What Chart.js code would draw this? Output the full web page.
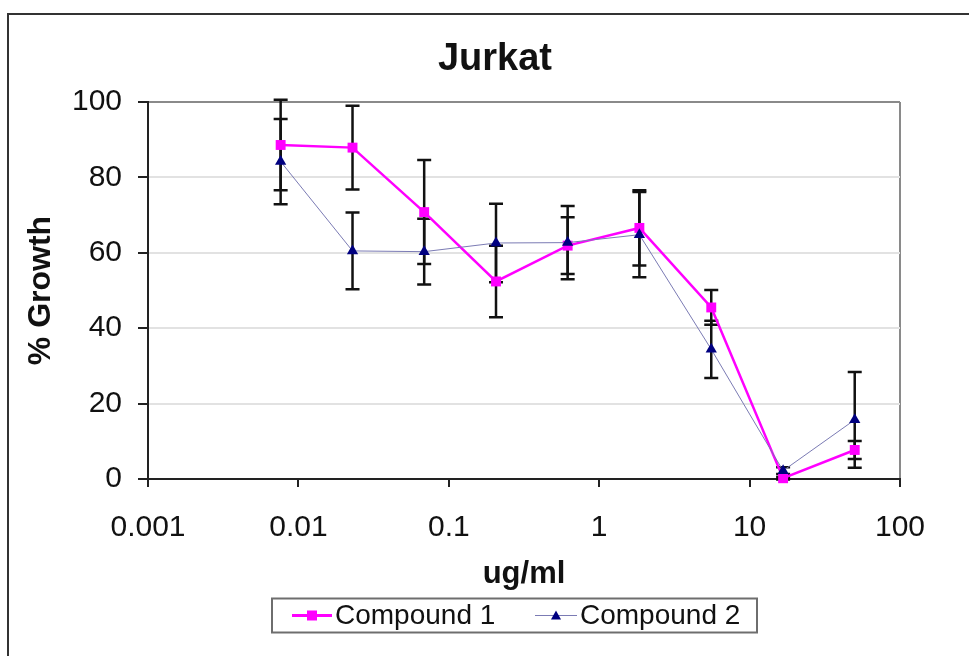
<!DOCTYPE html>
<html>
<head>
<meta charset="utf-8">
<script src="https://cdn.jsdelivr.net/npm/chart.js@4.4.1/dist/chart.umd.min.js"></script>
<style>
  html, body { margin: 0; padding: 0; background: #fff; overflow: hidden; }
  #wrap { position: relative; width: 969px; height: 656px; }
</style>
</head>
<body>
<div id="wrap"><canvas id="chart--jurkat" width="969" height="656"></canvas></div>
<script>
"use strict";
// values
const chartTitle = 'Jurkat';
const seriesNames = ['Compound 1', 'Compound 2'];
const concentrations = [0.00762, 0.0229, 0.0686, 0.206, 0.617, 1.85, 5.56, 16.7, 50];
const compound1 = [88.6, 87.9, 70.8, 52.4, 61.9, 66.6, 45.5, 0.2, 7.7];
const compound1Err = [12.0, 11.1, 13.8, 9.5, 7.5, 10.0, 4.6, 0.3, 2.4];
const compound2 = [84.2, 60.5, 60.3, 62.6, 62.7, 64.8, 34.4, 2.2, 15.7];
const compound2Err = [11.3, 10.2, 8.7, 10.4, 9.7, 11.3, 7.6, 0.9, 12.7];
const xTickValues = [0.001, 0.01, 0.1, 1, 10, 100];
const xTickLabels = ['0.001', '0.01', '0.1', '1', '10', '100'];
const yTickValues = [0, 20, 40, 60, 80, 100];

const magenta = '#ff00ff';
const navy = '#000080';
const navyLine = '#7b7bb4';
const fontFamily = '"Liberation Sans", Arial, sans-serif';

function toPoints(values) {
    return values.map((v, i) => ({ x: concentrations[i], y: v }));
}

// error bars drawn through the scales, under the markers
const errorBarPlugin = {
    id: 'errorBars',
    beforeDatasetsDraw(chart) {
        const { ctx, scales } = chart;
        const errs = [compound1Err, compound2Err];
        const vals = [compound1, compound2];
        ctx.save();
        ctx.strokeStyle = '#111';
        ctx.lineWidth = 2.5;
        for (let s = 0; s < vals.length; s++) {
            for (let i = 0; i < concentrations.length; i++) {
                const x = scales.x.getPixelForValue(concentrations[i]);
                const yHi = scales.y.getPixelForValue(vals[s][i] + errs[s][i]);
                const yLo = scales.y.getPixelForValue(vals[s][i] - errs[s][i]);
                ctx.beginPath();
                ctx.moveTo(x, yHi);
                ctx.lineTo(x, yLo);
                ctx.moveTo(x - 7, yHi);
                ctx.lineTo(x + 7, yHi);
                ctx.moveTo(x - 7, yLo);
                ctx.lineTo(x + 7, yLo);
                ctx.stroke();
            }
        }
        ctx.restore();
    }
};

// outer frame, title and legend box
const framePlugin = {
    id: 'frame',
    beforeDraw(chart) {
        const { ctx, width, height } = chart;
        ctx.save();
        ctx.fillStyle = '#fff';
        ctx.fillRect(0, 0, width, height);
        ctx.strokeStyle = '#333';
        ctx.lineWidth = 2;
        ctx.beginPath();
        ctx.moveTo(8, height + 5);
        ctx.lineTo(8, 14);
        ctx.lineTo(width + 5, 14);
        ctx.stroke();
        ctx.restore();
    },
    afterDraw(chart) {
        const { ctx } = chart;
        ctx.save();
        ctx.fillStyle = '#111';
        ctx.font = `bold 38px ${fontFamily}`;
        ctx.textAlign = 'center';
        ctx.textBaseline = 'alphabetic';
        ctx.fillText(chartTitle, 495, 70);

        // legend
        ctx.strokeStyle = '#6e6e6e';
        ctx.lineWidth = 2;
        ctx.strokeRect(272, 598.5, 485, 34);
        const midY = 615.5;
        ctx.strokeStyle = magenta;
        ctx.lineWidth = 3;
        ctx.beginPath();
        ctx.moveTo(292, midY);
        ctx.lineTo(332, midY);
        ctx.stroke();
        ctx.fillStyle = magenta;
        ctx.fillRect(307, midY - 5, 10, 10);
        ctx.strokeStyle = navyLine;
        ctx.lineWidth = 1;
        ctx.beginPath();
        ctx.moveTo(535, midY);
        ctx.lineTo(577, midY);
        ctx.stroke();
        ctx.fillStyle = navy;
        ctx.beginPath();
        ctx.moveTo(556, midY - 5);
        ctx.lineTo(561, midY + 4);
        ctx.lineTo(551, midY + 4);
        ctx.closePath();
        ctx.fill();
        ctx.fillStyle = '#111';
        ctx.font = `28px ${fontFamily}`;
        ctx.textAlign = 'left';
        ctx.textBaseline = 'middle';
        ctx.fillText(seriesNames[0], 335, midY + 1);
        ctx.fillText(seriesNames[1], 580, midY + 1);
        ctx.restore();
    }
};

const chartElement = document.querySelector('#chart--jurkat');
const chart = new Chart(chartElement, {
    type: 'line',
    data: {
        datasets: [
            {
                label: seriesNames[0],
                data: toPoints(compound1),
                borderColor: magenta,
                backgroundColor: magenta,
                borderWidth: 2.5,
                pointStyle: 'rect',
                pointRadius: 7,
                pointBorderWidth: 0,
                tension: 0,
                clip: false,
                order: 1
            },
            {
                label: seriesNames[1],
                data: toPoints(compound2),
                borderColor: navyLine,
                backgroundColor: navy,
                pointBackgroundColor: navy,
                pointBorderColor: navy,
                borderWidth: 1,
                pointStyle: 'triangle',
                pointRadius: 6.5,
                pointBorderWidth: 0,
                tension: 0,
                clip: false,
                order: 0
            }
        ]
    },
    options: {
        responsive: false,
        animation: false,
        events: [],
        layout: { padding: { left: 10, right: 69, top: 102, bottom: 63 } },
        plugins: {
            legend: { display: false },
            title: { display: false },
            tooltip: { enabled: false }
        },
        scales: {
            x: {
                type: 'logarithmic',
                min: 0.001,
                max: 100,
                afterBuildTicks(scale) {
                    scale.ticks = xTickValues.map((v) => ({ value: v }));
                },
                afterFit(scale) {
                    scale.height = 114;
                },
                ticks: {
                    autoSkip: false,
                    maxRotation: 0,
                    padding: 23,
                    color: '#111',
                    font: { family: fontFamily, size: 30 },
                    callback: (value) => xTickLabels[xTickValues.indexOf(value)]
                },
                grid: {
                    color: (c) => (c.tick && c.tick.value === 100 ? '#8a8a8a' : 'rgba(0,0,0,0)'),
                    lineWidth: 2,
                    tickColor: '#222',
                    tickLength: 8
                },
                border: { color: '#222', width: 2 },
                title: {
                    display: true,
                    text: 'ug/ml',
                    color: '#111',
                    padding: { top: 0, bottom: 0 },
                    font: { family: fontFamily, size: 31, weight: 'bold' }
                }
            },
            y: {
                min: 0,
                max: 100,
                afterBuildTicks(scale) {
                    scale.ticks = yTickValues.map((v) => ({ value: v }));
                },
                afterFit(scale) {
                    scale.width = 138;
                },
                ticks: {
                    padding: 16,
                    color: '#111',
                    font: { family: fontFamily, size: 30 }
                },
                grid: {
                    color: (c) => (c.tick && c.tick.value === 100 ? '#8a8a8a' : '#e2e2e2'),
                    lineWidth: 2,
                    tickColor: '#222',
                    tickLength: 10
                },
                border: { color: '#222', width: 2 },
                title: {
                    display: true,
                    text: '% Growth',
                    color: '#111',
                    padding: { top: 12, bottom: 0 },
                    font: { family: fontFamily, size: 32, weight: 'bold' }
                }
            }
        }
    },
    plugins: [errorBarPlugin, framePlugin]
});
</script>
</body>
</html>
